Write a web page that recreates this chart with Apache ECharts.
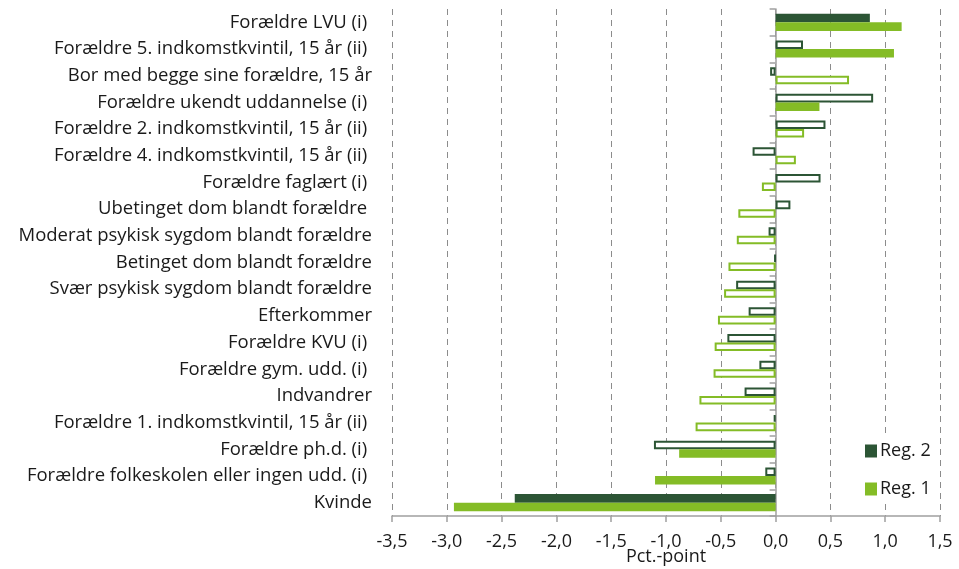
<!DOCTYPE html>
<html>
<head>
<meta charset="utf-8">
<script src="https://cdn.jsdelivr.net/npm/echarts@6/dist/echarts.min.js"></script>
<style>
html,body{margin:0;padding:0;background:#fff;}
#c{width:959px;height:569px;}
</style>
</head>
<body>
<div id="c"></div>
<script>
const categories = [
  "Forældre LVU (i) ",
  "Forældre 5. indkomstkvintil, 15 år (ii) ",
  "Bor med begge sine forældre, 15 år",
  "Forældre ukendt uddannelse (i) ",
  "Forældre 2. indkomstkvintil, 15 år (ii) ",
  "Forældre 4. indkomstkvintil, 15 år (ii) ",
  "Forældre faglært (i) ",
  "Ubetinget dom blandt forældre ",
  "Moderat psykisk sygdom blandt forældre",
  "Betinget dom blandt forældre",
  "Svær psykisk sygdom blandt forældre",
  "Efterkommer",
  "Forældre KVU (i) ",
  "Forældre gym. udd. (i) ",
  "Indvandrer",
  "Forældre 1. indkomstkvintil, 15 år (ii) ",
  "Forældre ph.d. (i) ",
  "Forældre folkeskolen eller ingen udd. (i) ",
  "Kvinde"
];
const reg2 = [0.86, 0.25, -0.05, 0.89, 0.455, -0.21, 0.41, 0.135, -0.064, -0.01, -0.36, -0.246, -0.44, -0.148, -0.283, -0.017, -1.11, -0.094, -2.38];
const reg1 = [1.15, 1.08, 0.67, 0.40, 0.26, 0.185, -0.125, -0.34, -0.354, -0.43, -0.47, -0.526, -0.556, -0.566, -0.695, -0.73, -0.88, -1.10, -2.935];
// 1 = significant (filled bar), 0 = not significant (hollow bar)
const reg2Sig = [1,0,0,0,0,0,0,0,0,0,0,0,0,0,0,0,0,0,1];
const reg1Sig = [1,1,0,1,0,0,0,0,0,0,0,0,0,0,0,0,1,1,1];
const xTicks = {min: -3.5, max: 1.5, interval: 0.5};

const DARK = '#2C5535';
const LIGHT = '#84BC26';
const FONT = '"Open Sans", sans-serif';

function build(vals, sig, color) {
  return vals.map((v, i) => sig[i]
    ? {value: v, itemStyle: {color: color, borderWidth: 0}}
    : {value: v, itemStyle: {color: '#ffffff', borderColor: color, borderWidth: 2}});
}

const chart = echarts.init(document.getElementById('c'));
chart.setOption({
  animation: false,
  backgroundColor: '#fff',
  textStyle: {fontFamily: FONT},
  grid: {left: 392, right: 19, top: 9, bottom: 53, containLabel: false, outerBoundsMode: 'none'},
  legend: {
    orient: 'vertical',
    left: 862,
    top: 438,
    itemWidth: 12,
    itemHeight: 13,
    itemGap: 20,
    icon: 'rect',
    backgroundColor: '#fff',
    padding: [4, 8, 4, 3],
    textStyle: {fontFamily: FONT, fontSize: 18, color: '#1a1a1a', padding: [0,0,0,-2]},
    data: [
      {name: 'Reg. 2', itemStyle: {color: DARK, borderWidth: 0}},
      {name: 'Reg. 1', itemStyle: {color: LIGHT, borderWidth: 0}}
    ]
  },
  xAxis: {
    type: 'value',
    min: xTicks.min, max: xTicks.max, interval: xTicks.interval,
    name: 'Pct.-point',
    nameLocation: 'middle',
    nameGap: 32,
    nameMoveOverlap: false,
    nameTextStyle: {fontFamily: FONT, fontSize: 18, color: '#1a1a1a'},
    axisLine: {show: true, onZero: false, lineStyle: {color: '#a0a0a0', width: 1.5}},
    axisTick: {show: true, length: 6, lineStyle: {color: '#a0a0a0', width: 1.5}},
    axisLabel: {
      fontFamily: FONT, fontSize: 18, color: '#1a1a1a', margin: 17,
      formatter: v => v.toFixed(1).replace('.', ',')
    },
    splitLine: {show: true, lineStyle: {color: '#8c8c8c', type: [6, 5], width: 1}}
  },
  yAxis: [
    {
      type: 'category',
      inverse: true,
      data: categories,
      position: 'left',
      axisLine: {show: false, onZero: false},
      axisTick: {show: false},
      axisLabel: {fontFamily: FONT, fontSize: 18.5, color: '#1a1a1a', margin: 20}
    },
    {
      type: 'category',
      inverse: true,
      data: categories,
      position: 'left',
      axisLine: {show: true, onZero: true, lineStyle: {color: '#a0a0a0', width: 1.5}},
      axisTick: {show: true, length: 6, lineStyle: {color: '#a0a0a0', width: 1.5}},
      axisLabel: {show: false}
    }
  ],
  series: [
    {
      name: 'Reg. 2', type: 'bar', yAxisIndex: 0, color: DARK,
      barGap: '0%', barCategoryGap: '36%',
      data: build(reg2, reg2Sig, DARK)
    },
    {
      name: 'Reg. 1', type: 'bar', yAxisIndex: 0, color: LIGHT,
      barGap: '0%', barCategoryGap: '36%',
      data: build(reg1, reg1Sig, LIGHT)
    }
  ]
});
</script>
</body>
</html>
